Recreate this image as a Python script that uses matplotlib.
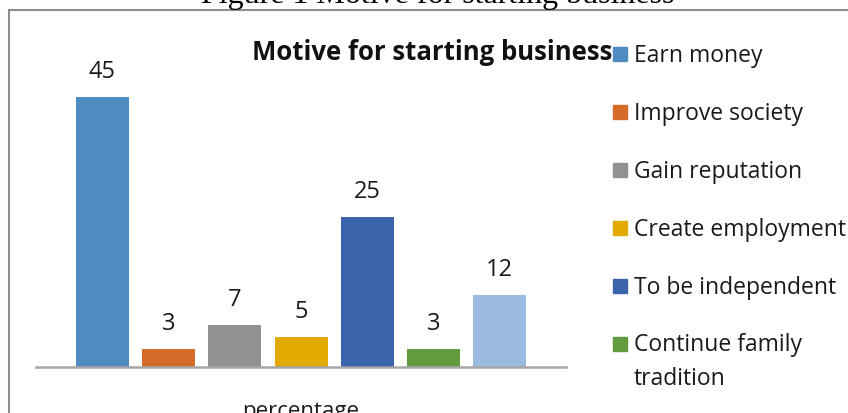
import matplotlib.pyplot as plt
from matplotlib.patches import Rectangle

# chart data
motives = ["Earn money", "Improve society", "Gain reputation", "Create employment",
           "To be independent", "Continue family\ntradition", "Other"]
percentages = [45, 3, 7, 5, 25, 3, 12]
colors = ["#4E8BC0", "#D46B29", "#919191", "#E2AA00", "#3C64AC", "#629A3F", "#9ABAE0"]
shown_in_key = 6  # the key only has room for the first six entries

W, H = 848, 414
plt.rcParams['font.family'] = ['Open Sans', 'DejaVu Sans']

fig = plt.figure(figsize=(W / 100, H / 100), dpi=100)


def fx(x):
    return x / W


def fy(y):
    return 1 - y / H


# frame around the chart
fig.add_artist(Rectangle((fx(9), -0.2), 1.5, fy(11) + 0.2, transform=fig.transFigure,
                         fill=False, edgecolor="#8C8C8C", lw=1.5))

ax = fig.add_axes([fx(36), fy(368), 530 / W, 300 / H])
pos = range(1, len(percentages) + 1)
ax.bar(pos, percentages, width=0.8, color=colors)
ax.set_xlim(0, 8)
ax.set_ylim(0, 50)
ax.set_xticks([])
ax.set_yticks([])
for s in ["top", "left", "right"]:
    ax.spines[s].set_visible(False)
ax.spines["bottom"].set_color("#A6A6A6")
ax.spines["bottom"].set_linewidth(1.8)
ax.patch.set_alpha(0)

for x, v in zip(pos, percentages):
    ax.annotate(str(v), (x, v), xytext=(0, 18.5), textcoords="offset points",
                ha="center", va="center", fontsize=17, color="#1a1a1a")

fig.text(fx(432), fy(53), "Motive for starting business", ha="center", va="center",
         fontsize=18.5, weight="bold", color="#111111")
fig.text(fx(438), fy(3), "Figure 1 Motive for starting business", ha="center",
         va="baseline", fontsize=23, family="Liberation Serif")
fig.text(fx(301), fy(412), "percentage", ha="center", va="center", fontsize=16,
         color="#1a1a1a")

# key on the right
for i in range(shown_in_key):
    y = 55 + 58 * i
    nlines = motives[i].count("\n") + 1
    fig.add_artist(Rectangle((fx(613), fy(y + 7)), 14 / W, 14 / H,
                             transform=fig.transFigure, color=colors[i]))
    fig.text(fx(634), fy(y + 1 + (nlines - 1) * 16), motives[i], ha="left", va="center",
             fontsize=16.5, linespacing=1.55, color="#1a1a1a")

fig.savefig("out.png", dpi=100)
